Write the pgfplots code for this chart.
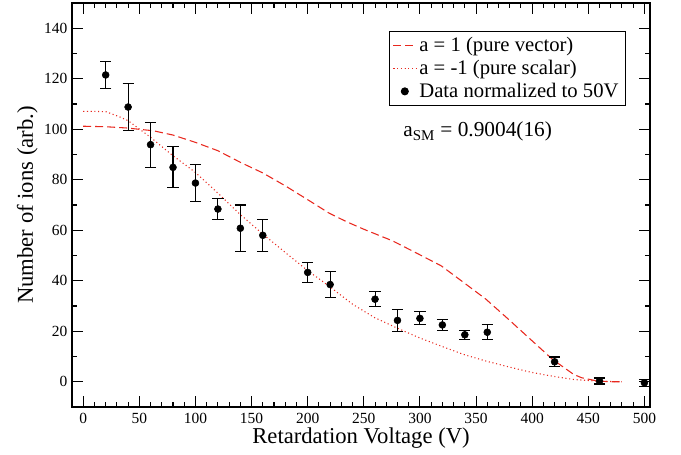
\documentclass[border=0pt]{standalone}
\usepackage{pgfplots}
\pgfplotsset{compat=1.18}
\usepackage{fontspec}
\setmainfont{Liberation Serif}
\definecolor{fitred}{RGB}{232,40,30}
\begin{document}
\begin{tikzpicture}
\useasboundingbox (-54pt,-35.25pt) rectangle (456.75pt,305.25pt);
\begin{axis}[
  scale only axis,
  width=433.5pt, height=303pt,
  xmin=-10, xmax=505, ymin=-10, ymax=150,
  xtick={0,50,...,500}, ytick={0,20,...,140},
  minor x tick num=4, minor y tick num=1,
  tick align=inside,
  major tick length=8pt, minor tick length=4pt,
  every tick/.style={black, line width=0.8pt},
  axis line style={line width=1.5pt},
  /pgf/number format/assume math mode=true,
  tick label style={font=\fontsize{11.6}{13}\selectfont},
  xticklabel style={yshift=-1pt},
  label style={font=\fontsize{17}{20}\selectfont},
  xlabel={Retardation Voltage (V)},
  ylabel={Number of ions (arb.)},
  xlabel style={yshift=4pt},
  ylabel style={yshift=-2pt},
  legend style={at={(axis cs:272,139)}, anchor=north west, draw=black, line width=0.6pt,
    font=\fontsize{15.5}{18}\selectfont, inner xsep=3pt, inner ysep=2.5pt, row sep=1pt,
    legend cell align=left},
  legend image post style={line width=0.8pt},
]
\addplot[fitred, line width=0.8pt, dash pattern=on 6pt off 3pt] coordinates {
(0,101.2) (20,101) (38.8,100.5) (62.5,99.4) (80,97.7) (100,94.8) (120,91.5)
(140,86.9) (160,82.7) (180,77.6) (200,72.1) (219,66.8) (235,63.3) (250,60.4)
(275.6,55.8) (299,50.5) (319,45.9) (339,39.3) (358.8,32.7) (379,24.7)
(398.5,16.8) (418.3,8.8) (437,2.9) (444,1.6) (458,0.3) (470,0) (480,0)};
\addlegendentry{a = 1 (pure vector)}
\addplot[fitred, line width=0.8pt, dash pattern=on 0.8pt off 2pt] coordinates {
(0,107.1) (20,107.0) (33,104.8) (40,103.4) (60,96.8) (80,89.5) (100,82.9)
(120,74.7) (140,66.2) (160,58.5) (180,51.2) (200,44.0) (219,37.9)
(240,30.7) (259.6,25.4) (279,21.4) (299,17.5) (319,14.1) (339,10.8)
(358.8,8.2) (379,5.9) (398.5,3.8) (418,2.2) (437,0.9) (460,0.2) (480,0)};
\addlegendentry{a = -1 (pure scalar)}
\addplot[only marks, mark=*, mark size=2.6pt, black,
  error bars/.cd, y dir=both, y explicit,
  error bar style={line width=0.8pt, black},
  error mark options={rotate=90, mark size=4.2pt, line width=0.8pt, black}]
coordinates {
(20,121.5) +- (0,5.2)
(40,108.8) +- (0,9.2)
(60,93.9) +- (0,8.9)
(80,84.9) +- (0,8.1)
(100,78.7) +- (0,7.2)
(120,68.4) +- (0,4.3)
(140,60.8) +- (0,9.2)
(160,58.0) +- (0,6.3)
(200,43.3) +- (0,3.9)
(220,38.5) +- (0,5.3)
(260,32.7) +- (0,3.0)
(280,24.3) +- (0,4.4)
(300,25.1) +- (0,2.6)
(320,22.5) +- (0,2.2)
(340,18.6) +- (0,1.7)
(360,19.6) +- (0,2.9)
(420,7.9) +- (0,1.9)
(460,0.3) +- (0,1.2)
(500,-0.4) +- (0,1.4)
};
\addlegendentry{Data normalized to 50V}
\node[anchor=base west, font=\fontsize{16}{19}\selectfont, inner sep=0pt] at (axis cs:285,97) {a\textsubscript{SM} = 0.9004(16)};
\end{axis}
\end{tikzpicture}
\end{document}
